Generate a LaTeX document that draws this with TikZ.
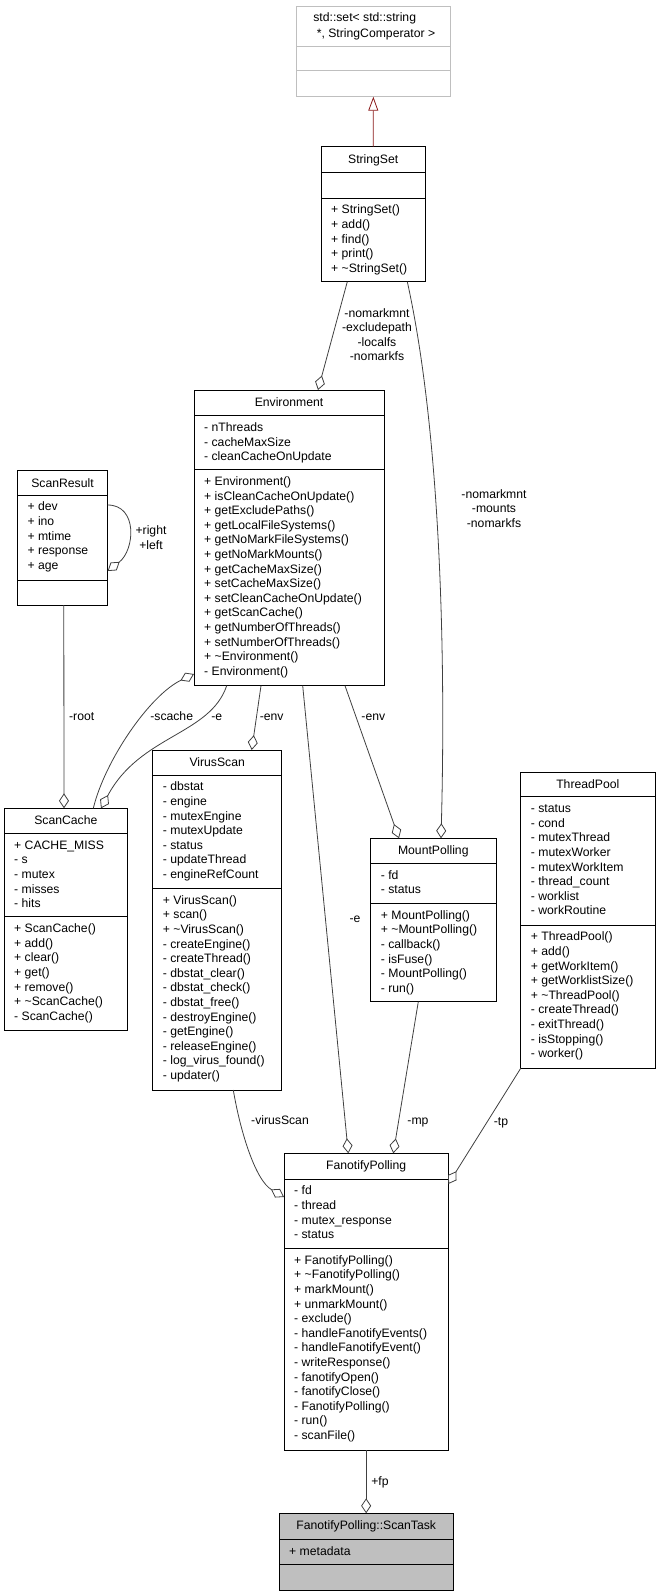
\documentclass[tikz,border=0pt]{standalone}
\usepackage{fontspec}
\setmainfont{Liberation Sans}
\usetikzlibrary{arrows.meta,positioning}
\definecolor{edgegray}{HTML}{404040}
\definecolor{inhred}{HTML}{8B1A1A}
\definecolor{extgray}{HTML}{BFBFBF}

\begin{document}
\begin{tikzpicture}[x=1pt,y=-1pt,
 txt/.style={font=\fontsize{12.2}{14.6}\selectfont,inner sep=0pt},
 cls/.style={draw=black,line width=.9pt,fill=white,anchor=north west,inner sep=0pt,outer sep=0pt},
 ttl/.style={txt,anchor=base},
 mem/.style={txt,anchor=base west},
 sepl/.style={draw=black,line width=.9pt},
 lbl/.style={txt,align=center},
 agg/.style={draw=edgegray,line width=.8pt,-{Diamond[open,length=15pt,width=10pt]}},
 inh/.style={draw=inhred,line width=.8pt,-{Triangle[open,length=14pt,width=10pt]}}]
\useasboundingbox (0,0) rectangle (661,1596);
% std::set (external)
\node[cls,draw=extgray,minimum width=153.3pt,minimum height=90.7pt] (stdset) at (296.7,6) {};
\draw[sepl,draw=extgray] (296.7,46) -- +(153.3,0) (296.7,70.7) -- +(153.3,0);
\node[ttl] (stdsetT1) at (364.7,21.5) {std::set< std::string};
\node[ttl] (stdsetT2) at (376,37.5) {*, StringComperator >};
% StringSet
\node[cls,minimum width=104.3pt,minimum height=135pt] (strset) at (321,146.7) {};
\draw[sepl] (321,172.7) -- +(104.3,0) (321,198) -- +(104.3,0);
\node[ttl] (strsetT) at (373.2,163.2) {StringSet};
\foreach \m [count=\i] in {+ StringSet(),+ add(),+ find(),+ print(),+ \textasciitilde StringSet()}
 \node[mem] (strsetM\i) at (331,{198+15.9+14.6*(\i-1)}) {\m};
% Environment
\node[cls,minimum width=190pt,minimum height=295.7pt] (env) at (194,390) {};
\draw[sepl] (194,415.5) -- +(190,0) (194,469.5) -- +(190,0);
\node[ttl] (envT) at (289,406.5) {Environment};
\foreach \m [count=\i] in {- nThreads,- cacheMaxSize,- cleanCacheOnUpdate}
 \node[mem] (envA\i) at (204,{415.5+15.9+14.6*(\i-1)}) {\m};
\foreach \m [count=\i] in {+ Environment(),+ isCleanCacheOnUpdate(),+ getExcludePaths(),
 + getLocalFileSystems(),+ getNoMarkFileSystems(),+ getNoMarkMounts(),+ getCacheMaxSize(),
 + setCacheMaxSize(),+ setCleanCacheOnUpdate(),+ getScanCache(),+ getNumberOfThreads(),
 + setNumberOfThreads(),+ \textasciitilde Environment(),- Environment()}
 \node[mem] (envM\i) at (204,{469.5+15.9+14.6*(\i-1)}) {\m};
% ScanResult
\node[cls,minimum width=90.4pt,minimum height=134.3pt] (scanres) at (17.3,470.7) {};
\draw[sepl] (17.3,495) -- +(90.4,0) (17.3,580.7) -- +(90.4,0);
\node[ttl] (scanresT) at (62.5,487.2) {ScanResult};
\foreach \m [count=\i] in {+ dev,+ ino,+ mtime,+ response,+ age}
 \node[mem] (scanresA\i) at (27.3,{495+15.9+14.6*(\i-1)}) {\m};
% ScanCache
\node[cls,minimum width=123.7pt,minimum height=221.7pt] (scache) at (4,808.3) {};
\draw[sepl] (4,833.3) -- +(123.7,0) (4,916.7) -- +(123.7,0);
\node[ttl] (scacheT) at (65.8,824.8) {ScanCache};
\foreach \m [count=\i] in {+ CACHE\_MISS,- s,- mutex,- misses,- hits}
 \node[mem] (scacheA\i) at (14,{833.3+15.9+14.6*(\i-1)}) {\m};
\foreach \m [count=\i] in {+ ScanCache(),+ add(),+ clear(),+ get(),+ remove(),
 + \textasciitilde ScanCache(),- ScanCache()}
 \node[mem] (scacheM\i) at (14,{916.7+15.9+14.6*(\i-1)}) {\m};
% VirusScan
\node[cls,minimum width=129pt,minimum height=340pt] (vscan) at (152.7,750) {};
\draw[sepl] (152.7,775) -- +(129,0) (152.7,888.3) -- +(129,0);
\node[ttl] (vscanT) at (217.2,766.5) {VirusScan};
\foreach \m [count=\i] in {- dbstat,- engine,- mutexEngine,- mutexUpdate,- status,
 - updateThread,- engineRefCount}
 \node[mem] (vscanA\i) at (162.7,{775+15.9+14.6*(\i-1)}) {\m};
\foreach \m [count=\i] in {+ VirusScan(),+ scan(),+ \textasciitilde VirusScan(),- createEngine(),
 - createThread(),- dbstat\_clear(),- dbstat\_check(),- dbstat\_free(),- destroyEngine(),
 - getEngine(),- releaseEngine(),- log\_virus\_found(),- updater()}
 \node[mem] (vscanM\i) at (162.7,{888.3+15.9+14.6*(\i-1)}) {\m};
% MountPolling
\node[cls,minimum width=125.3pt,minimum height=163.4pt] (mpoll) at (370.7,838.3) {};
\draw[sepl] (370.7,863.3) -- +(125.3,0) (370.7,903.3) -- +(125.3,0);
\node[ttl] (mpollT) at (433.3,854.8) {MountPolling};
\foreach \m [count=\i] in {- fd,- status}
 \node[mem] (mpollA\i) at (380.7,{863.3+15.9+14.6*(\i-1)}) {\m};
\foreach \m [count=\i] in {+ MountPolling(),+ \textasciitilde MountPolling(),- callback(),
 - isFuse(),- MountPolling(),- run()}
 \node[mem] (mpollM\i) at (380.7,{903.3+15.9+14.6*(\i-1)}) {\m};
% ThreadPool
\node[cls,minimum width=134.3pt,minimum height=296pt] (tpool) at (520.7,772.3) {};
\draw[sepl] (520.7,796.7) -- +(134.3,0) (520.7,925) -- +(134.3,0);
\node[ttl] (tpoolT) at (587.8,788.8) {ThreadPool};
\foreach \m [count=\i] in {- status,- cond,- mutexThread,- mutexWorker,- mutexWorkItem,
 - thread\_count,- worklist,- workRoutine}
 \node[mem] (tpoolA\i) at (530.7,{796.7+15.9+14.6*(\i-1)}) {\m};
\foreach \m [count=\i] in {+ ThreadPool(),+ add(),+ getWorkItem(),+ getWorklistSize(),
 + \textasciitilde ThreadPool(),- createThread(),- exitThread(),- isStopping(),- worker()}
 \node[mem] (tpoolM\i) at (530.7,{925+15.9+14.6*(\i-1)}) {\m};
% FanotifyPolling
\node[cls,minimum width=164.3pt,minimum height=296.7pt] (fpoll) at (284,1153.3) {};
\draw[sepl] (284,1179) -- +(164.3,0) (284,1248.3) -- +(164.3,0);
\node[ttl] (fpollT) at (366.2,1169.8) {FanotifyPolling};
\foreach \m [count=\i] in {- fd,- thread,- mutex\_response,- status}
 \node[mem] (fpollA\i) at (294,{1179+15.9+14.6*(\i-1)}) {\m};
\foreach \m [count=\i] in {+ FanotifyPolling(),+ \textasciitilde FanotifyPolling(),+ markMount(),
 + unmarkMount(),- exclude(),- handleFanotifyEvents(),- handleFanotifyEvent(),
 - writeResponse(),- fanotifyOpen(),- fanotifyClose(),- FanotifyPolling(),- run(),- scanFile()}
 \node[mem] (fpollM\i) at (294,{1248.3+15.9+14.6*(\i-1)}) {\m};
% FanotifyPolling::ScanTask
\node[cls,fill=extgray,minimum width=174.3pt,minimum height=76.7pt] (stask) at (279,1513.3) {};
\draw[sepl] (279,1539.3) -- +(174.3,0) (279,1564) -- +(174.3,0);
\node[ttl] (staskT) at (366.2,1529.8) {FanotifyPolling::ScanTask};
\node[mem] (staskA1) at (289,1555.2) {+ metadata};
% connectors
\draw[inh] (strset.north) -- (stdset.south);
\draw[agg] ([xshift=26.3pt]strset.south west) -- ([xshift=124pt]env.north west);
\draw[agg] ([xshift=86.3pt]strset.south west) .. controls (440,430) and (446,650) .. ([xshift=70.3pt]mpoll.north west);
\draw[agg] ([yshift=-34.3pt]scanres.north east) .. controls (138,505) and (135,550) .. ([yshift=-100.3pt]scanres.north east);
\draw[agg] ([xshift=46.5pt]scanres.south west) -- ([xshift=60pt]scache.north west);
\draw[agg] ([xshift=89.3pt]scache.north west) .. controls (105,760) and (150,695) .. ([yshift=11.7pt]env.south west);
\draw[agg] ([xshift=32.7pt]env.south west) .. controls (210,735) and (140,735) .. ([xshift=97pt]scache.north west);
\draw[agg] ([xshift=67pt]env.south west) -- ([xshift=99pt]vscan.north west);
\draw[agg] ([xshift=108.7pt]env.south west) -- ([xshift=64.3pt]fpoll.north west);
\draw[agg] ([xshift=151pt]env.south west) -- ([xshift=28.3pt]mpoll.north west);
\draw[agg] ([xshift=80.6pt]vscan.south west) .. controls (240,1130) and (255,1180) .. ([yshift=-43.7pt]fpoll.north west);
\draw[agg] ([xshift=47.6pt]mpoll.south west) -- ([xshift=109.3pt]fpoll.north west);
\draw[agg] (tpool.south west) -- ([yshift=-30.7pt]fpoll.north east);
\draw[agg] (fpoll.south) -- (stask.north);
% connector labels
\node[lbl] (lblExcl) at (377,334.7) {-nomarkmnt\\-excludepath\\-localfs\\-nomarkfs};
\node[lbl] (lblMounts) at (494,508.5) {-nomarkmnt\\-mounts\\-nomarkfs};
\node[lbl] (lblTree) at (151,537.5) {+right\\+left};
\node[ttl] (lblRoot) at (81.7,720.9) {-root};
\node[ttl] (lblScache) at (171.7,720.9) {-scache};
\node[ttl] (lblCacheEnv) at (216.7,720.9) {-e};
\node[ttl] (lblScanEnv) at (271.7,720.9) {-env};
\node[ttl] (lblMountEnv) at (373.3,720.9) {-env};
\node[ttl] (lblFanEnv) at (355,922.2) {-e};
\node[ttl] (lblVscan) at (280,1124.2) {-virusScan};
\node[ttl] (lblMp) at (418,1124.9) {-mp};
\node[ttl] (lblTp) at (501,1125.9) {-tp};
\node[ttl] (lblFp) at (380,1485.2) {+fp};
\end{tikzpicture}
\end{document}
